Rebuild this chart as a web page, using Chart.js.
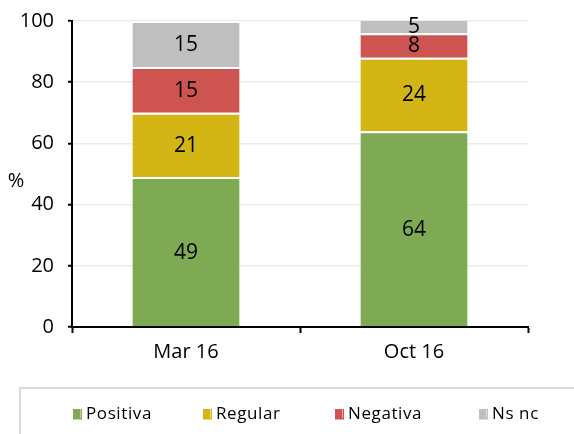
<!DOCTYPE html>
<html><head><meta charset="utf-8">
<script src="https://cdn.jsdelivr.net/npm/chart.js@4/dist/chart.umd.min.js"></script>
<style>html,body{margin:0;padding:0;background:#fff}#wrap{width:574px;height:434px}</style>
</head><body><div id="wrap"><canvas id="c" width="574" height="434"></canvas></div>
<script>
const categories = ["Mar 16", "Oct 16"];
const seriesNames = ["Positiva", "Regular", "Negativa", "Ns nc"];
const positiva = [49, 64];
const regular = [21, 24];
const negativa = [15, 8];
const nsnc = [15, 5];
const yTicks = [0, 20, 40, 60, 80, 100];
const colors = ["#7DAA52", "#D3B615", "#CD5451", "#BFBFBF"];
const FONT = "'Open Sans', 'Noto Sans', sans-serif";

const labelsPlugin = {
  id: 'extras',
  afterDatasetsDraw(chart) {
    const ctx = chart.ctx;
    ctx.save();
    ctx.fillStyle = '#000';
    ctx.font = '21px ' + FONT;
    ctx.textAlign = 'center';
    ctx.textBaseline = 'middle';
    chart.data.datasets.forEach((ds, di) => {
      const meta = chart.getDatasetMeta(di);
      meta.data.forEach((bar, i) => {
        const y = (bar.y + bar.base) / 2;
        ctx.fillText(String(ds.data[i]), bar.x, y + 1);
      });
    });
    ctx.restore();
  },
  afterDraw(chart) {
    const ctx = chart.ctx;
    ctx.save();
    ctx.fillStyle = '#000';
    ctx.font = '20px ' + FONT;
    ctx.textAlign = 'center';
    ctx.textBaseline = 'middle';
    ctx.fillText('%', 16, 181);
    ctx.strokeStyle = '#D9D9D9';
    ctx.lineWidth = 2;
    ctx.strokeRect(20, 388, 600, 100);
    const xs = [73, 203, 335, 479];
    ctx.font = '17px ' + FONT;
    ctx.textAlign = 'left';
    try { ctx.letterSpacing = '0.6px'; } catch (e) {}
    chart.data.datasets.forEach((ds, i) => {
      const x = xs[i];
      ctx.fillStyle = ds.backgroundColor;
      ctx.fillRect(x, 409, 7, 9);
      ctx.fillRect(x, 418, 9, 1.5);
      ctx.fillRect(x + 7.5, 409, 1.5, 10);
      ctx.fillStyle = '#000';
      ctx.fillText(ds.label, x + 13, 414);
    });
    ctx.restore();
  }
};

const data = {
  labels: categories,
  datasets: [positiva, regular, negativa, nsnc].map((vals, i) => ({
    label: seriesNames[i],
    data: vals,
    backgroundColor: colors[i],
    borderColor: '#fff',
    borderWidth: {top: 2, left: 0, right: 0, bottom: 0},
    borderSkipped: false,
    categoryPercentage: 1,
    barPercentage: 0.47
  }))
};

new Chart(document.getElementById('c'), {
  type: 'bar',
  data,
  plugins: [labelsPlugin],
  options: {
    responsive: false,
    animation: false,
    layout: {padding: {left: 0, right: 46, top: 21, bottom: 0}},
    plugins: {legend: {display: false}, tooltip: {enabled: false}},
    scales: {
      x: {
        stacked: true,
        afterFit(s) { s.height = 107; },
        grid: {offset: true, drawOnChartArea: false, tickLength: 6, tickColor: '#000', tickWidth: 2},
        border: {display: true, color: '#000', width: 2},
        ticks: {color: '#000', font: {size: 20, family: FONT}, padding: 7}
      },
      y: {
        stacked: true,
        min: 0, max: 100,
        afterFit(s) { s.width = 72; s.paddingTop = 0; s.paddingBottom = 0; },
        afterBuildTicks(s) { s.ticks = yTicks.map(v => ({value: v})); },
        grid: {color: '#EBEBEB', lineWidth: 1.5, tickLength: 4, tickColor: '#000', tickWidth: 2},
        border: {display: true, color: '#000', width: 2},
        ticks: {color: '#000', font: {size: 20, family: FONT, lineHeight: 1}, padding: 14}
      }
    }
  }
});
</script></body></html>
